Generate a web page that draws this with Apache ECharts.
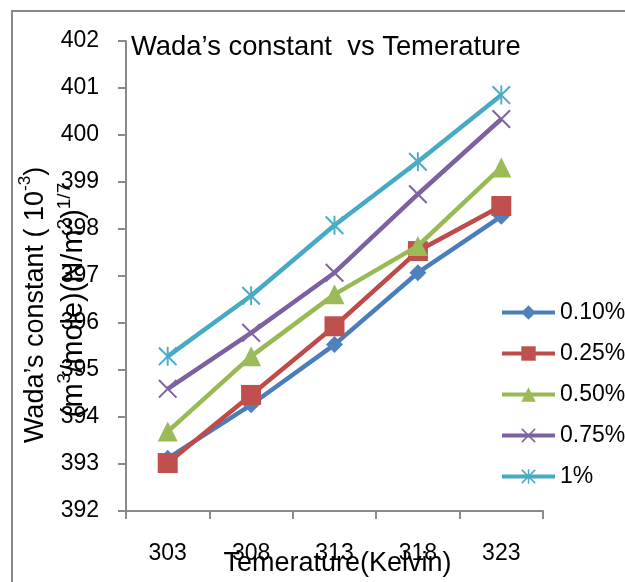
<!DOCTYPE html>
<html>
<head>
<meta charset="utf-8">
<script src="https://cdn.jsdelivr.net/npm/echarts@6/dist/echarts.min.js"></script>
<style>
html,body{margin:0;padding:0;background:#fff;}
#chart{width:625px;height:582px;}
</style>
</head>
<body>
<div id="chart"></div>
<script>
const temperatures = ['303', '308', '313', '318', '323'];
const seriesNames = ['0.10%', '0.25%', '0.50%', '0.75%', '1%'];
const wada010 = [393.12, 394.26, 395.54, 397.07, 398.27];
const wada025 = [393.02, 394.47, 395.93, 397.53, 398.49];
const wada050 = [393.69, 395.29, 396.61, 397.64, 399.31];
const wada075 = [394.60, 395.79, 397.07, 398.74, 400.34];
const wada100 = [395.29, 396.58, 398.08, 399.43, 400.85];
const yMin = 392, yMax = 402, yStep = 1;

const FONT = 'Liberation Sans';
const X_SYMBOL = 'path://M0,1.5 L1.5,0 L20,18.5 L18.5,20 Z M18.5,0 L20,1.5 L1.5,20 L0,18.5 Z';
const STAR_SYMBOL = 'path://M0,1.5 L1.5,0 L20,18.5 L18.5,20 Z M18.5,0 L20,1.5 L1.5,20 L0,18.5 Z M9,0 L11,0 L11,20 L9,20 Z';

const styles = [
  {data: wada010, color: '#4A7EBB', mcolor: '#4F81BD', symbol: 'diamond', size: 17},
  {data: wada025, color: '#BE4B48', mcolor: '#C0504D', symbol: 'rect', size: 20},
  {data: wada050, color: '#98B954', mcolor: '#9BBB59', symbol: 'triangle', size: 20},
  {data: wada075, color: '#7D60A0', mcolor: '#8064A2', symbol: X_SYMBOL, size: 19},
  {data: wada100, color: '#46AAC5', mcolor: '#4BACC6', symbol: STAR_SYMBOL, size: 19}
];

const chart = echarts.init(document.getElementById('chart'), null, {renderer: 'canvas'});
chart.setOption({
  backgroundColor: '#fff',
  animation: false,
  title: {
    text: 'Wada\u2019s constant  vs Temerature',
    left: 131, top: 34, padding: 0,
    textStyle: {fontFamily: FONT, fontSize: 27.4, fontWeight: 'normal', color: '#000'}
  },
  graphic: [{
    type: 'rect', silent: true,
    shape: {x: 12, y: 11, width: 800, height: 800},
    style: {fill: null, stroke: '#8a8a8a', lineWidth: 2}
  }],
  legend: {
    orient: 'vertical', left: 500, top: 301, padding: 0,
    itemWidth: 53, itemHeight: 18, itemGap: 18,
    lineStyle: {width: 4},
    textStyle: {fontFamily: FONT, fontSize: 23, color: '#000'},
    data: seriesNames
  },
  grid: {left: 126, right: 82, top: 41, bottom: 71, containLabel: false, outerBoundsMode: 'none'},
  xAxis: {
    type: 'category', data: temperatures, boundaryGap: true,
    name: 'Temerature(Kelvin)', nameLocation: 'middle', nameGap: 39, nameMoveOverlap: false,
    nameTextStyle: {fontFamily: FONT, fontSize: 27, color: '#000', padding: [0, 0, 0, 6]},
    axisLine: {lineStyle: {color: '#8a8a8a', width: 2}},
    axisTick: {show: true, length: 8, alignWithLabel: false, lineStyle: {color: '#8a8a8a', width: 2}},
    axisLabel: {fontFamily: FONT, fontSize: 23, color: '#000', margin: 31},
    splitLine: {show: false}
  },
  yAxis: {
    type: 'value', min: yMin, max: yMax, interval: yStep,
    name: '{a|Wada\u2019s constant ( 10}{s|-3}{a|)}{g| }\n{b|(m}{t|3}{b|/mole)(N/m}{t|2}{b|)}{t|1/7}',
    nameLocation: 'middle', nameRotate: 90, nameGap: 33, nameMoveOverlap: false,
    nameTextStyle: {
      fontFamily: FONT, fontSize: 27, color: '#000', lineHeight: 38,
      padding: [0, 48, 0, 0],
      rich: {
        a: {fontFamily: FONT, fontSize: 27, color: '#000', lineHeight: 38},
        s: {fontFamily: FONT, fontSize: 17, color: '#000', lineHeight: 26, verticalAlign: 'top'},
        b: {fontFamily: FONT, fontSize: 29, color: '#000', lineHeight: 38},
        t: {fontFamily: FONT, fontSize: 19, color: '#000', lineHeight: 26, verticalAlign: 'top'},
        g: {fontFamily: FONT, fontSize: 27, width: 10, lineHeight: 38}
      }
    },
    axisLine: {show: true, lineStyle: {color: '#8a8a8a', width: 2}},
    axisTick: {show: true, length: 8, lineStyle: {color: '#8a8a8a', width: 2}},
    axisLabel: {fontFamily: FONT, fontSize: 23, color: '#000', margin: 27},
    splitLine: {show: false}
  },
  series: styles.map((s, i) => ({
    name: seriesNames[i], type: 'line', data: s.data,
    symbol: s.symbol, symbolSize: s.size, showSymbol: true,
    lineStyle: {color: s.color, width: 4.5},
    itemStyle: {color: s.mcolor, borderWidth: 0},
    z: 2 + i
  }))
});
</script>
</body>
</html>
